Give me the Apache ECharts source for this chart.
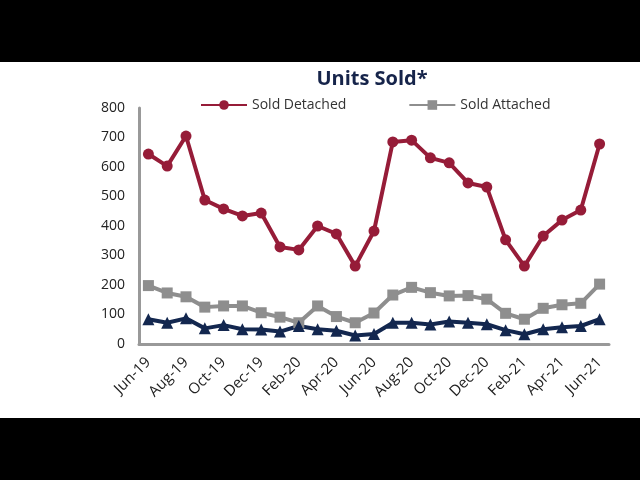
<!DOCTYPE html>
<html><head><meta charset="utf-8">
<script src="https://cdn.jsdelivr.net/npm/echarts@6/dist/echarts.min.js"></script>
<style>
html,body{margin:0;padding:0;background:#000;width:640px;height:480px;overflow:hidden}
#c{position:absolute;left:0;top:62px;width:640px;height:356px;background:#fff}
</style></head>
<body><div id="c"></div>
<script>
const months = ['Jun-19','Jul-19','Aug-19','Sep-19','Oct-19','Nov-19','Dec-19','Jan-20','Feb-20','Mar-20','Apr-20','May-20','Jun-20','Jul-20','Aug-20','Sep-20','Oct-20','Nov-20','Dec-20','Jan-21','Feb-21','Mar-21','Apr-21','May-21','Jun-21'];
const soldDetached = [644,603,705,488,458,434,444,329,319,400,373,264,383,685,691,631,614,546,532,353,264,366,420,454,678];
const soldAttached = [198,173,160,125,129,129,106,91,72,129,93,72,105,166,192,174,163,164,152,104,84,121,133,138,203];
const soldOther = [84,72,87,53,64,50,49,42,61,50,45,29,34,72,72,66,76,72,67,47,33,50,57,61,84];
const yTicks = {min:0, max:800, interval:100};

const chart = echarts.init(document.getElementById('c'));
const font = '"Open Sans", "Noto Sans", sans-serif';
chart.setOption({
  animation:false,
  title:{text:'Units Sold*', left:367, top:2, textAlign:'center',
    textStyle:{fontFamily:font, fontSize:20, fontWeight:'bold', color:'#16244a'}},
  legend:{data:['Sold Detached','Sold Attached'], top:31, left:195, itemGap:62, itemWidth:46, itemHeight:12,
    textStyle:{fontFamily:font, fontSize:14, color:'#333'}},
  grid:{left:139, right:31, top:46, bottom:74, containLabel:false},
  xAxis:{type:'category', data:months, boundaryGap:true,
    axisLine:{lineStyle:{color:'#999', width:3}}, axisTick:{show:false},
    axisLabel:{interval:1, rotate:45, fontFamily:font, fontSize:15, color:'#222', margin:16}},
  yAxis:{type:'value', min:yTicks.min, max:yTicks.max, interval:yTicks.interval,
    axisLine:{show:true, lineStyle:{color:'#999', width:3}}, axisTick:{show:false}, splitLine:{show:false},
    axisLabel:{fontFamily:font, fontSize:14, color:'#222', margin:14}},
  series:[
    {name:'Sold Detached', type:'line', data:soldDetached, symbol:'circle', symbolSize:11,
      lineStyle:{width:4, color:'#961c38'}, itemStyle:{color:'#961c38'}},
    {name:'Sold Attached', type:'line', data:soldAttached, symbol:'rect', symbolSize:11,
      lineStyle:{width:4, color:'#8e8e8e'}, itemStyle:{color:'#8e8e8e'}},
    {name:'Sold Other', type:'line', data:soldOther, symbol:'triangle', symbolSize:12,
      lineStyle:{width:4, color:'#13274f'}, itemStyle:{color:'#13274f'}}
  ]
});
</script></body></html>
